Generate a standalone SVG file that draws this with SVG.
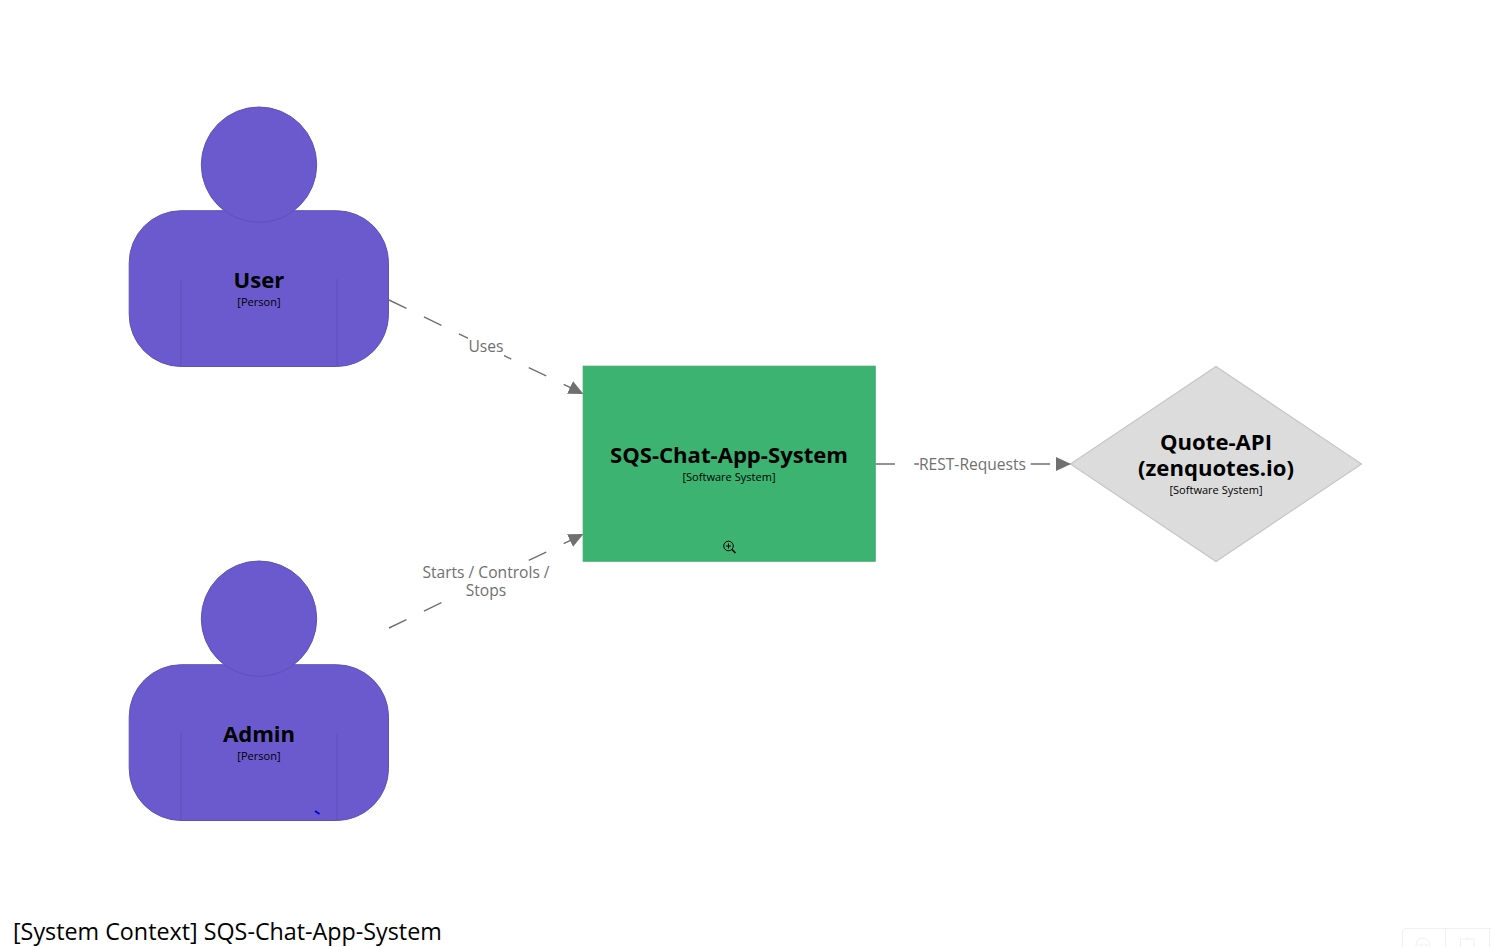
<svg xmlns="http://www.w3.org/2000/svg" width="1491" height="947" viewBox="0 0 1491 947">
<style>
text{font-family:"Open Sans","Noto Sans","DejaVu Sans",sans-serif;text-anchor:middle}
.name{font-size:22.1px;font-weight:700;fill:#000}
.sub{font-size:11.05px;fill:#000}
.lbl{font-size:15.6px;fill:#707070}
.person{fill:#6a5acd;stroke:#5f51b8;stroke-width:1}
.arm{stroke:#5f51b8;stroke-width:1;fill:none}
.conn{stroke:#707070;stroke-width:1.4;fill:none;stroke-dasharray:19.4 19.4;marker-end:url(#arrow)}
</style>
<defs>
<marker id="arrow" markerUnits="userSpaceOnUse" markerWidth="15" markerHeight="14" refX="15" refY="7" orient="auto"><path d="M0 0L15 7L0 14Z" fill="#707070"/></marker>
</defs>
<rect width="1491" height="947" fill="#fff"/>
<g id="connectors">
<path class="conn" d="M389 300L583.500 394"/>
<path class="conn" d="M389 628L583.500 534"/>
<path class="conn" d="M875.500 464L1071 464"/>
<rect x="468" y="337" width="36" height="20" fill="#fff"/>
<rect x="421" y="562" width="130" height="40" fill="#fff"/>
<rect x="919" y="454" width="108" height="20" fill="#fff"/>
<text class="lbl" x="486" y="352">Uses</text>
<text class="lbl" x="486" y="578">Starts / Controls /</text>
<text class="lbl" x="486" y="596">Stops</text>
<text class="lbl" x="972.500" y="470">REST-Requests</text>
</g>
<g id="user">
<rect class="person" x="129.200" y="210.700" width="259.300" height="155.800" rx="52"/>
<circle class="person" cx="259" cy="164.700" r="57.700"/>
<path class="arm" d="M181 279V366.500M337 279V366.500"/>
<text class="name" x="259" y="288.400">User</text>
<text class="sub" x="259" y="306">[Person]</text>
</g>
<g id="admin">
<rect class="person" x="129.200" y="664.700" width="259.300" height="155.800" rx="52"/>
<circle class="person" cx="259" cy="618.700" r="57.700"/>
<path class="arm" d="M181 733V820.500M337 733V820.500"/>
<text class="name" x="259" y="742.400">Admin</text>
<text class="sub" x="259" y="760">[Person]</text>
<path d="M315 811L319.500 814" stroke="#0000e0" stroke-width="1.800" fill="none"/>
</g>
<g id="system">
<rect x="583.200" y="366.200" width="292" height="195" fill="#3cb371" stroke="#38a969"/>
<text class="name" x="729" y="463.400">SQS-Chat-App-System</text>
<text class="sub" x="729" y="481">[Software System]</text>
<g fill="none" stroke="#000" stroke-width="1"><circle cx="728.500" cy="546" r="4.800"/><path d="M726 546H731M728.500 543.500V548.500"/><path d="M732 549.500L735.500 553" stroke-width="1.500"/></g>
</g>
<g id="quote-api">
<path d="M1216 366.500L1361.500 464L1216 561.500L1070.500 464Z" fill="#dcdcdc" stroke="#c6c6c6" stroke-width="1.200"/>
<text class="name" x="1216" y="450.400">Quote-API</text>
<text class="name" x="1216" y="476.400">(zenquotes.io)</text>
<text class="sub" x="1216" y="494">[Software System]</text>
</g>
<text x="13" y="940" style="text-anchor:start;font-size:23.3px;fill:#000">[System Context] SQS-Chat-App-System</text>
<g id="toolbar" fill="none" stroke="#f0f0f0">
<path d="M1402.500 947V932Q1402.500 928.500 1406 928.500H1491M1445.500 928.500V947M1489.500 928.500V947"/>
<circle cx="1423" cy="945" r="7"/><path d="M1418 945H1428"/>
<path d="M1460.500 947V939H1474V947M1467 939V937"/>
</g>
</svg>
